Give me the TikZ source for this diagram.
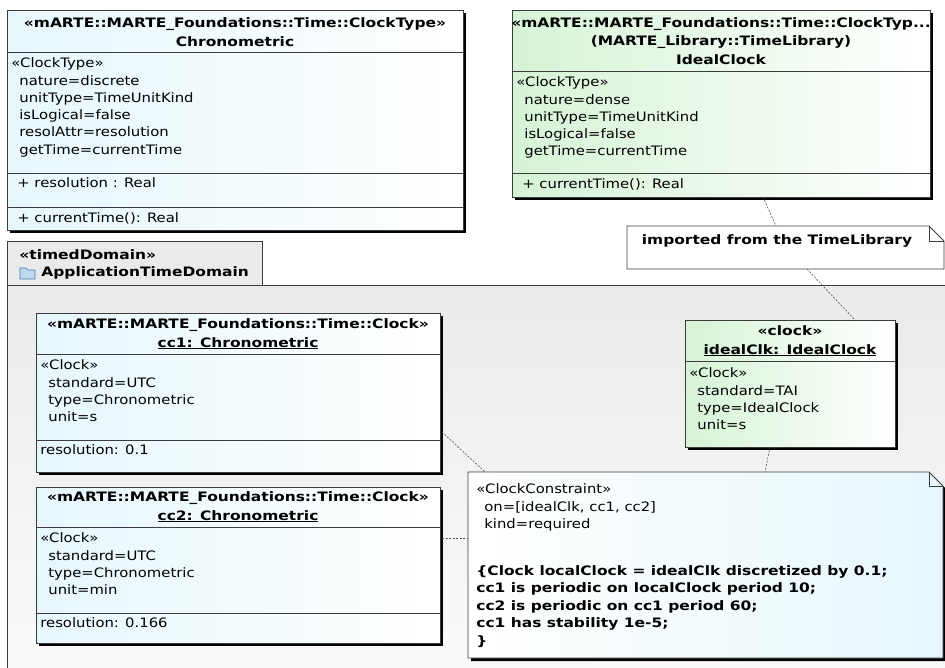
\documentclass[tikz,border=0pt]{standalone}
\usepackage{fontspec}
\setmainfont{DejaVu Sans}[FakeStretch=1.14, BoldFeatures={FakeStretch=1.19}]
\usetikzlibrary{calc}

\definecolor{boxline}{RGB}{60,60,60}
\definecolor{clocklight}{RGB}{230,247,252}
\definecolor{libgreen}{RGB}{214,243,214}
\definecolor{pkggray}{RGB}{234,234,234}
\definecolor{pkglight}{RGB}{251,251,251}
\definecolor{folderblue}{RGB}{190,218,240}
\definecolor{folderedge}{RGB}{70,120,180}
\definecolor{linkgray}{RGB}{80,80,80}

\tikzset{every picture/.style={line width=0.75pt}}
\tikzset{
  classbox/.style={draw=boxline, line width=0.9pt, anchor=north west, inner sep=0pt},
  shadowbox/.style={fill=black},
  divider/.style={draw=boxline, line width=0.9pt},
  titletxt/.style={font=\bfseries\fontsize{13}{18.5}\selectfont, inner sep=0pt, align=center},
  attrtxt/.style={font=\fontsize{13}{17.3}\selectfont, inner sep=0pt, align=left, anchor=north west},
  linetxt/.style={font=\fontsize{13}{17.3}\selectfont, inner sep=0pt, anchor=west},
  notetxt/.style={font=\bfseries\fontsize{13}{17.5}\selectfont, inner sep=0pt, align=left},
  notebox/.style={draw=boxline, line width=0.9pt},
  link/.style={draw=linkgray, line width=0.6pt, dash pattern={on 2pt off 1.5pt}}
}

\begin{document}
\begin{tikzpicture}[x=1pt,y=1pt,yscale=-1,xscale=1]
\useasboundingbox (0,0) rectangle (945,668);
\clip (0,0) rectangle (945,668);

%Package ApplicationTimeDomain
\node (pkgtab) [classbox, fill=pkggray, minimum width=255, minimum height=44] at (7,241) {};
\node (pkg) [classbox, top color=pkggray, bottom color=pkglight, minimum width=960, minimum height=400] at (7,285) {};
\node (pkg-st) [linetxt, font=\bfseries\fontsize{13}{17}\selectfont] at (19,255) {«timedDomain»};
\draw [draw=folderedge, fill=folderblue, line width=0.6pt] (20,268) -- (26,268) -- (27.5,270) -- (35,270) -- (35,279) -- (20,279) -- cycle;
\node (pkg-name) [linetxt, font=\bfseries\fontsize{13}{17}\selectfont] at (41,273) {ApplicationTimeDomain};

%Class Chronometric
\fill [shadowbox] (10,13) rectangle (466,233);
\node (chrono) [classbox, left color=clocklight, right color=white, minimum width=456, minimum height=220] at (7,10) {};
\draw [divider] (chrono.west |- 0,52) -- (chrono.east |- 0,52);
\draw [divider] (chrono.west |- 0,173) -- (chrono.east |- 0,173);
\draw [divider] (chrono.west |- 0,207) -- (chrono.east |- 0,207);
\node (chrono-title) [titletxt] at (235,32) {«mARTE::MARTE\_Foundations::Time::ClockType»\\Chronometric};
\node (chrono-attr) [attrtxt] at (11,57.5) {«ClockType»\\
  \hspace*{8pt}nature=discrete\\
  \hspace*{8pt}unitType=TimeUnitKind\\
  \hspace*{8pt}isLogical=false\\
  \hspace*{8pt}resolAttr=resolution\\
  \hspace*{8pt}getTime=currentTime};
\node (chrono-prop) [linetxt] at (17,183) {+ resolution : Real};
\node (chrono-op) [linetxt] at (17,218) {+ currentTime(): Real};

%Class IdealClock
\fill [shadowbox] (515,13) rectangle (933,200);
\node (ideal) [classbox, left color=libgreen, right color=white, minimum width=418, minimum height=187] at (512,10) {};
\draw [divider] (ideal.west |- 0,71) -- (ideal.east |- 0,71);
\draw [divider] (ideal.west |- 0,173) -- (ideal.east |- 0,173);
\node (ideal-title) [titletxt] at (721,41) {«mARTE::MARTE\_Foundations::Time::ClockTyp...\\(MARTE\_Library::TimeLibrary)\\IdealClock};
\node (ideal-attr) [attrtxt] at (516,76.5) {«ClockType»\\
  \hspace*{8pt}nature=dense\\
  \hspace*{8pt}unitType=TimeUnitKind\\
  \hspace*{8pt}isLogical=false\\
  \hspace*{8pt}getTime=currentTime};
\node (ideal-op) [linetxt] at (522,184) {+ currentTime(): Real};

%Note imported
\coordinate (imp-nw) at (627,226);
\coordinate (imp-se) at (944,269);
\draw [notebox, fill=white] (imp-nw) -- (929,226) -- (944,241) -- (imp-se) -- (627,269) -- cycle;
\draw [notebox] (929,226) -- (929,241) -- (944,241);
\node (imp) [titletxt] at (777,241) {imported from the TimeLibrary};

%Instance cc1
\fill [shadowbox] (39,316) rectangle (443,475);
\node (cc1) [classbox, left color=clocklight, right color=white, minimum width=404, minimum height=159] at (36,313) {};
\draw [divider] (cc1.west |- 0,354) -- (cc1.east |- 0,354);
\draw [divider] (cc1.west |- 0,440) -- (cc1.east |- 0,440);
\node (cc1-title) [titletxt] at (238,334) {«mARTE::MARTE\_Foundations::Time::Clock»\\\underline{cc1: Chronometric}};
\node (cc1-attr) [attrtxt] at (40,359.5) {«Clock»\\
  \hspace*{8pt}standard=UTC\\
  \hspace*{8pt}type=Chronometric\\
  \hspace*{8pt}unit=s};
\node (cc1-res) [linetxt] at (40,450) {resolution: 0.1};

%Instance cc2
\fill [shadowbox] (39,490) rectangle (443,646);
\node (cc2) [classbox, left color=clocklight, right color=white, minimum width=404, minimum height=156] at (36,487) {};
\draw [divider] (cc2.west |- 0,527) -- (cc2.east |- 0,527);
\draw [divider] (cc2.west |- 0,613) -- (cc2.east |- 0,613);
\node (cc2-title) [titletxt] at (238,507) {«mARTE::MARTE\_Foundations::Time::Clock»\\\underline{cc2: Chronometric}};
\node (cc2-attr) [attrtxt] at (40,532.5) {«Clock»\\
  \hspace*{8pt}standard=UTC\\
  \hspace*{8pt}type=Chronometric\\
  \hspace*{8pt}unit=min};
\node (cc2-res) [linetxt] at (40,623) {resolution: 0.166};

%Instance idealClk
\fill [shadowbox] (688,323) rectangle (898,450);
\node (clk) [classbox, left color=libgreen, right color=white, minimum width=210, minimum height=127] at (685,320) {};
\draw [divider] (clk.west |- 0,361) -- (clk.east |- 0,361);
\node (clk-title) [titletxt] at (790,341) {«clock»\\\underline{idealClk: IdealClock}};
\node (clk-attr) [attrtxt] at (689,367.5) {«Clock»\\
  \hspace*{8pt}standard=TAI\\
  \hspace*{8pt}type=IdealClock\\
  \hspace*{8pt}unit=s};

%Note ClockConstraint
\fill [shadowbox] (471,475) -- (932,475) -- (946,489) -- (946,661) -- (471,661) -- cycle;
\coordinate (cst-nw) at (468,472);
\coordinate (cst-se) at (943,658);
\draw [notebox, left color=white, right color=clocklight] (cst-nw) -- (929,472) -- (943,486) -- (cst-se) -- (468,658) -- cycle;
\draw [notebox] (929,472) -- (929,486) -- (943,486);
\node (cst-st) [attrtxt] at (476,483.5) {«ClockConstraint»\\
  \hspace*{8pt}on=[idealClk, cc1, cc2]\\
  \hspace*{8pt}kind=required};
\node (cst-body) [notetxt, anchor=north west] at (476,565) {\{Clock localClock = idealClk discretized by 0.1;\\
  cc1 is periodic on localClock period 10;\\
  cc2 is periodic on cc1 period 60;\\
  cc1 has stability 1e-5;\\
  \}};

%Connectors
\coordinate (ideal-foot) at (763,197);
\coordinate (imp-head) at (776,226);
\coordinate (imp-foot) at (807,269);
\coordinate (clk-head) at (855,320);
\coordinate (clk-foot) at (770,447);
\coordinate (cst-head) at (765,472);
\coordinate (cc1-side) at (442,432);
\coordinate (cst-corner) at (485,472);
\coordinate (cc2-side) at (442,538);
\coordinate (cst-side) at (468,538);
\draw [link] (ideal-foot) -- (imp-head);
\draw [link] (imp-foot) -- (clk-head);
\draw [link] (clk-foot) -- (cst-head);
\draw [link] (cc1-side) -- (cst-corner);
\draw [link] (cc2-side) -- (cst-side);

\end{tikzpicture}
\end{document}
